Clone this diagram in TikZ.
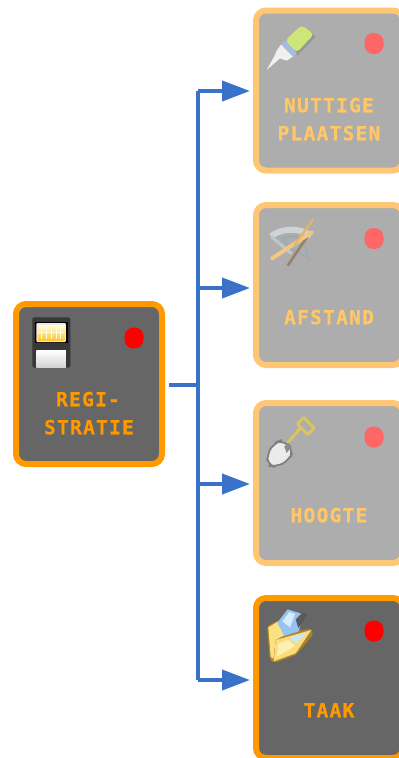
\documentclass[tikz,border=0pt]{standalone}
\usepackage{fontspec}
\newfontfamily\labfont[LetterSpace=6.5,BoldFeatures={FakeBold=0.4}]{DejaVu Sans Mono}
\usetikzlibrary{arrows.meta}
\definecolor{darkbg}{HTML}{666666}
\definecolor{darkedge}{HTML}{FF9900}
\definecolor{fadebg}{HTML}{ADADAD}
\definecolor{fadeedge}{HTML}{FFC675}
\definecolor{fadetext}{HTML}{FFC766}
\definecolor{fadedot}{HTML}{FF6666}
\definecolor{wire}{HTML}{3A72C9}
\tikzset{
  card/.style={draw,line width=6pt,rounded corners=10pt,minimum width=146pt,minimum height=160pt,inner sep=0pt},
  darkcard/.style={card,fill=darkbg,draw=darkedge},
  fadecard/.style={card,fill=fadebg,draw=fadeedge,minimum width=147pt},
  lab/.style={font=\labfont\bfseries\fontsize{19.5}{28}\selectfont,align=center,inner sep=0pt,text height=14.5pt,text depth=0pt},
  darklab/.style={lab,text=darkedge},
  fadelab/.style={lab,text=fadetext},
  dotmark/.style={rounded corners=9pt,rectangle,minimum width=19pt,minimum height=21pt,inner sep=0pt},
  wireline/.style={draw=wire,line width=4pt,line join=round},
  arrowline/.style={wireline,-{Triangle[length=28pt,width=20pt]}},
  icon/.style={x=0.3333pt,y=-0.3333pt}
}
\begin{document}
\begin{tikzpicture}[x=1pt,y=-1pt]
\useasboundingbox (0,0) rectangle (399,758);
\clip (0,0) rectangle (399,758);
% cards
\node[darkcard] (reg) at (89,384) {};
\node[fadecard] (n1) at (329.5,90.5) {};
\node[fadecard] (n2) at (329.5,285) {};
\node[fadecard] (n3) at (329.5,483) {};
\node[darkcard,minimum width=147pt] (n4) at (329.5,678) {};
% dots
\node[dotmark,fill=red] (d0) at (134,338) {};
\node[dotmark,fill=fadedot] (d1) at (374,43.5) {};
\node[dotmark,fill=fadedot] (d2) at (374,238.5) {};
\node[dotmark,fill=fadedot] (d3) at (374,437) {};
\node[dotmark,fill=red] (d4) at (374,631) {};
% labels
\node[darklab] (t0a) at (88,399) {REGI-};
\node[darklab] (t0b) at (89,427) {STRATIE};
\node[fadelab] (t1a) at (329,105) {NUTTIGE};
\node[fadelab] (t1b) at (329,133) {PLAATSEN};
\node[fadelab] (t2) at (329,317) {AFSTAND};
\node[fadelab] (t3) at (329,515) {HOOGTE};
\node[darklab] (t4) at (329,710) {TAAK};
% connectors
\coordinate (hub) at (198,385);
\coordinate (b1) at (198,91);
\coordinate (b2) at (198,288);
\coordinate (b3) at (198,484);
\coordinate (b4) at (198,680);
\draw[wireline,shorten <=4pt] (reg.east |- hub) -- (hub);
\draw[wireline,line cap=square] (b1) -- (b4);
\draw[arrowline,shorten >=3pt] (b1) -- (b1 -| n1.west);
\draw[arrowline,shorten >=3pt] (b2) -- (b2 -| n2.west);
\draw[arrowline,shorten >=3pt] (b3) -- (b3 -| n3.west);
\draw[arrowline,shorten >=3pt] (b4) -- (b4 -| n4.west);
% floppy icon
\begin{scope}[shift={(0,290)},icon]
\fill[black!78,rounded corners=1.5pt] (97,82) rectangle (211,233);
\fill[black] (105,95) rectangle (203,160);
\fill[white!92!black,rounded corners=1pt] (109,99) rectangle (198,156);
\shade[top color=white!85!yellow,bottom color=orange!55!yellow!80!white] (114,105) rectangle (193,150);
\foreach \gx in {125,140,155,170,183}
  \draw[white!85!yellow,line width=1pt] (\gx,110) -- (\gx,146);
\draw[white!85!yellow,line width=0.8pt] (114,128) -- (193,128);
\shade[top color=white,bottom color=black!18] (109,183) rectangle (198,233);
\end{scope}
% glue icon
\begin{scope}[shift={(245,0)},icon]
\fill[fill={rgb,255:red,150;green,150;blue,150}] (130,136) -- (178,84) -- (212,110) -- (158,166) -- cycle;
\fill[fill={rgb,255:red,206;green,230;blue,120},rounded corners=4pt] (120,122) -- (170,75) -- (207,103) -- (155,158) -- cycle;
\fill[fill={rgb,255:red,160;green,190;blue,225}] (108,134) -- (120,122) -- (155,158) -- (143,170) -- cycle;
\fill[white!94!black] (95,152) -- (108,134) -- (143,170) -- (125,182) -- (105,175) -- (65,210) -- (90,165) -- cycle;
\end{scope}
% protractor and pencils icon
\begin{scope}[shift={(245,195)},icon]
\draw[draw={rgb,255:red,205;green,212;blue,212},line width=6pt] (78,124) .. controls (110,98) and (165,98) .. (198,122);
\draw[draw={rgb,255:red,158;green,172;blue,178},line width=2.6pt] (112,130) .. controls (130,122) and (155,122) .. (172,130) -- (192,190) -- (140,162) -- cycle;
\draw[draw={rgb,255:red,190;green,198;blue,200},line width=3pt] (80,126) -- (140,176);
\draw[draw={rgb,255:red,150;green,130;blue,105},line width=2.6pt] (128,212) -- (190,120);
\draw[draw={rgb,255:red,240;green,200;blue,130},line width=4pt,line cap=round] (82,190) -- (200,112);
\draw[draw={rgb,255:red,228;green,180;blue,105},line width=2.4pt,line cap=round] (150,148) -- (203,75);
\end{scope}
% shovel icon
\begin{scope}[shift={(245,395)},icon]
\draw[draw={rgb,255:red,222;green,196;blue,96},line width=3pt] (125,148) -- (175,88);
\draw[draw={rgb,255:red,222;green,196;blue,96},line width=3pt,fill=fadebg,rounded corners=1pt] (157,87) -- (176,67) -- (208,100) -- (188,118) -- cycle;
\draw[draw=black!50,fill=white!92!black,line width=1.8pt,rounded corners=8pt] (88,144) -- (112,134) -- (146,166) -- (132,196) -- (94,216) -- (68,212) -- (66,176) -- cycle;
\fill[black!45] (118,155) -- (130,143) -- (140,155) -- (125,174) -- cycle;
\end{scope}
% folder icon
\begin{scope}[shift={(245,590)},icon]
\fill[fill={rgb,255:red,170;green,130;blue,40},rounded corners=2pt] (66,108) -- (102,90) -- (135,126) -- (200,116) -- (204,135) -- (154,194) -- (88,219) -- (74,209) -- cycle;
\fill[fill={rgb,255:red,250;green,225;blue,130}] (70,112) -- (100,94) -- (125,132) -- (92,150) -- (85,207) -- (77,200) -- cycle;
\fill[fill={rgb,255:red,150;green,195;blue,240}] (97,98) -- (128,58) -- (172,72) -- (162,124) -- (118,138) -- cycle;
\fill[fill={rgb,255:red,215;green,235;blue,250}] (112,94) -- (133,66) -- (150,72) -- (135,112) -- cycle;
\fill[black!65] (152,88) -- (172,68) -- (188,72) -- (178,88) -- (160,114) -- cycle;
\fill[fill={rgb,255:red,250;green,220;blue,120}] (92,150) -- (199,120) -- (152,190) -- (86,214) -- cycle;
\fill[fill={rgb,255:red,205;green,228;blue,245}] (132,142) -- (190,128) -- (152,160) -- cycle;
\fill[fill={rgb,255:red,253;green,240;blue,180}] (100,160) -- (130,150) -- (150,168) -- (96,200) -- cycle;
\end{scope}
\end{tikzpicture}
\end{document}
